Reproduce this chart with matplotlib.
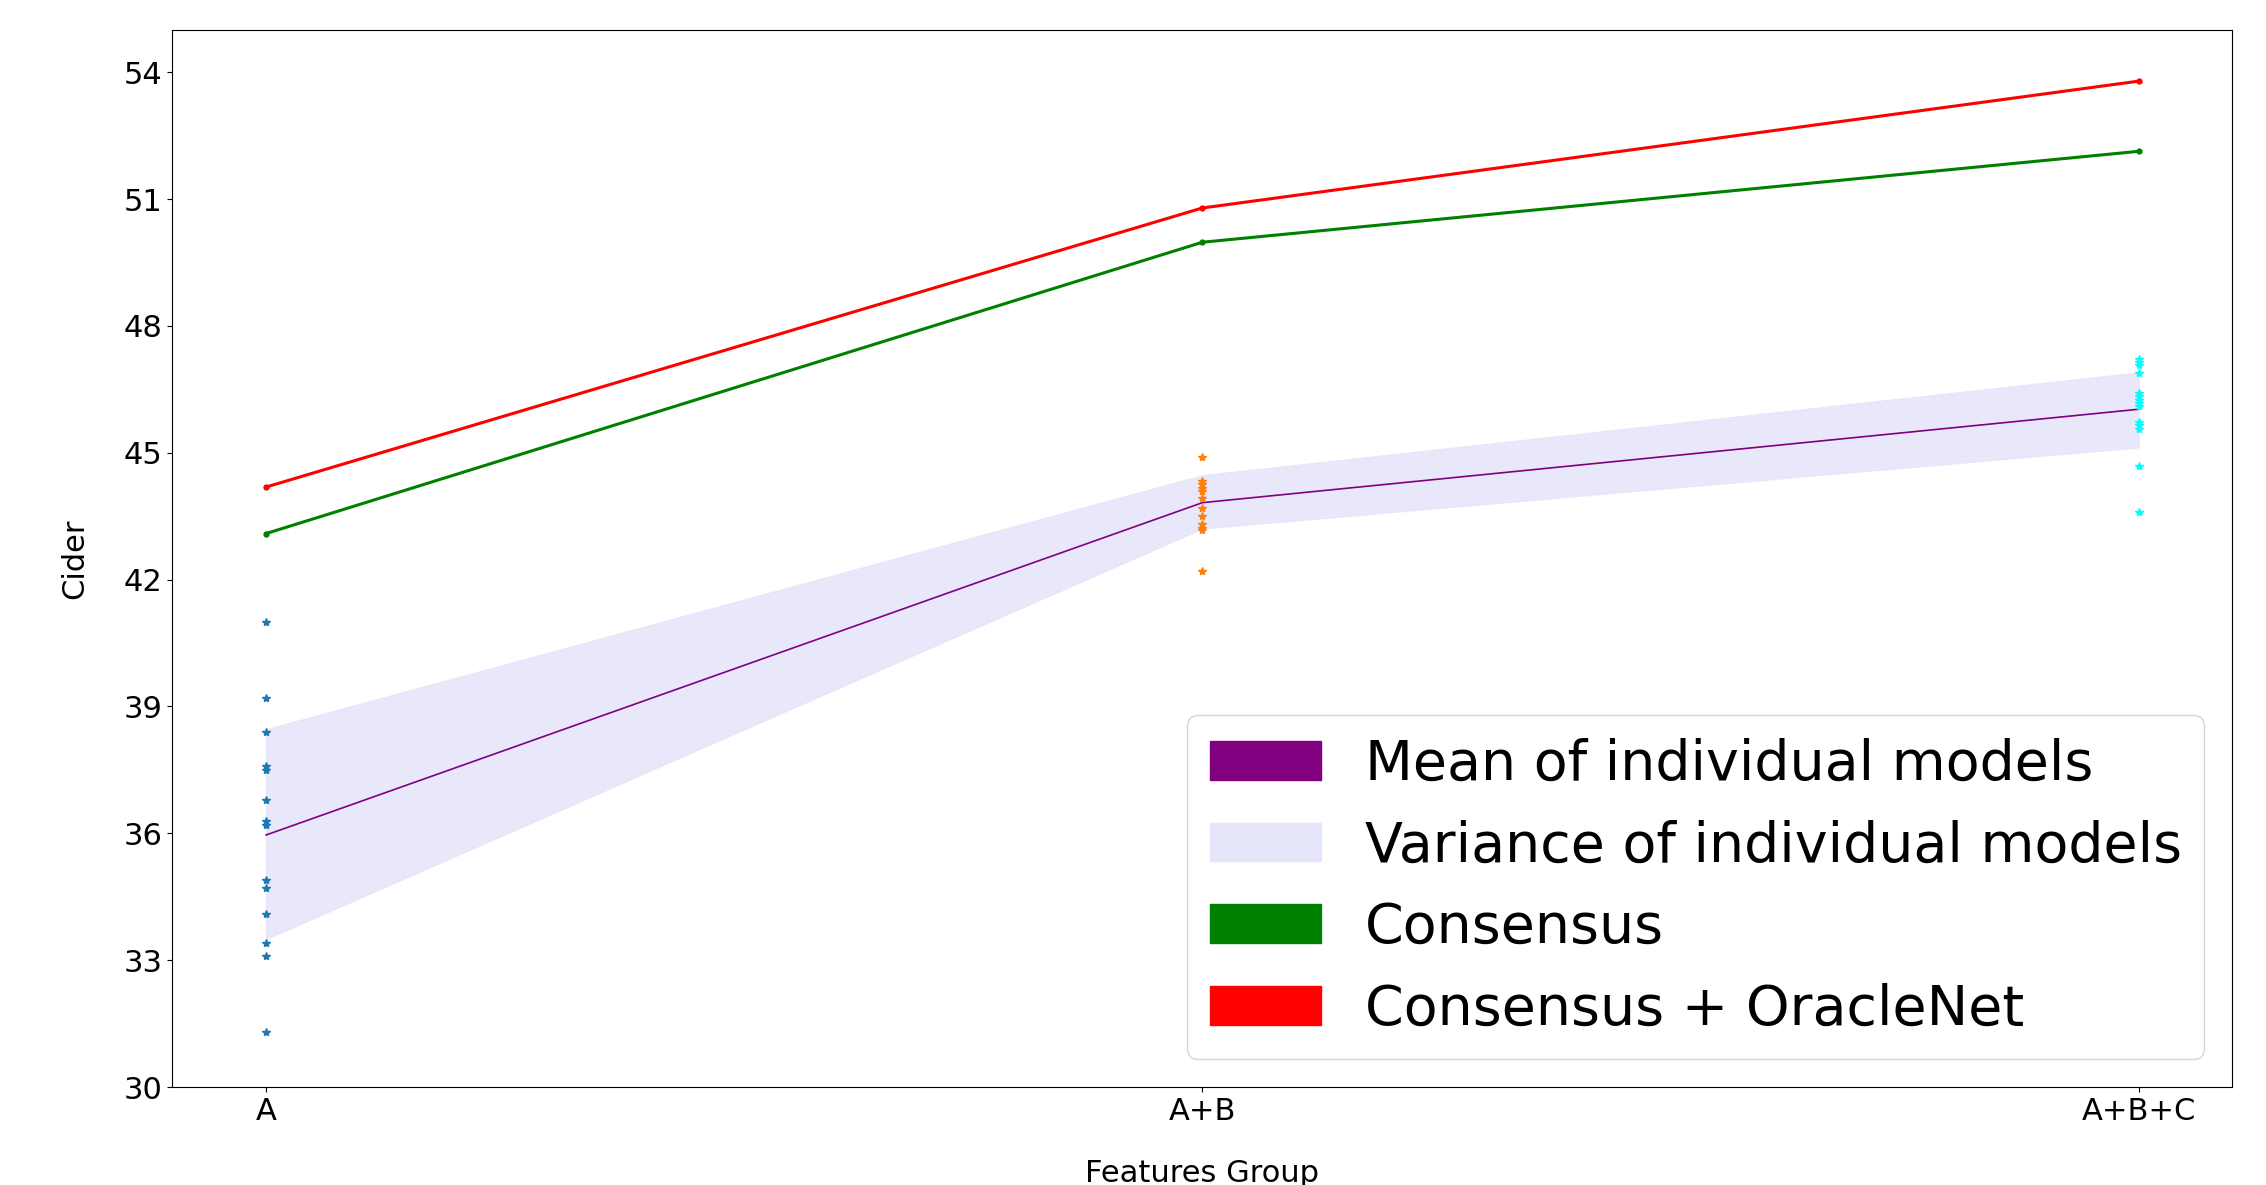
import matplotlib
matplotlib.use("Agg")
import matplotlib.pyplot as plt
from matplotlib.patches import Patch

groups = ["A", "A+B", "A+B+C"]

# individual model scores per feature group
scores_a = [40.99, 39.19, 38.40, 37.60, 37.49, 36.79, 36.29, 36.19,
            34.90, 34.71, 34.09, 33.40, 33.10, 31.29]
scores_ab = [44.90, 44.33, 44.25, 44.17, 44.09, 43.92, 43.70, 43.51,
             43.31, 43.23, 43.17, 42.20]
scores_abc = [47.23, 47.15, 47.07, 46.89, 46.41, 46.34, 46.26, 46.18,
              46.10, 45.72, 45.65, 45.57, 44.69, 43.59]

mean_vals = [35.96, 43.82, 46.03]
band_lo = [33.50, 43.21, 45.13]
band_hi = [38.46, 44.47, 46.90]
consensus = [43.09, 49.98, 52.13]
oracle = [44.19, 50.79, 53.79]

point_colors = ["#1f77b4", "#ff7f0e", "cyan"]

fig = plt.figure(figsize=(22.66, 11.85), dpi=100)
ax = fig.add_axes([0.0761, 0.0827, 0.909, 0.892])

xs = list(range(len(groups)))
for i, (pts, c) in enumerate(zip([scores_a, scores_ab, scores_abc], point_colors)):
    ax.plot([i] * len(pts), pts, linestyle="none", marker="*", markersize=6, color=c, zorder=3)

ax.fill_between(xs, band_lo, band_hi, color="lavender", alpha=0.9, zorder=1)
ax.plot(xs, mean_vals, color="purple", linewidth=1.2, zorder=2)
ax.plot(xs, consensus, color="green", linewidth=2.2, marker=".", markersize=7, zorder=2)
ax.plot(xs, oracle, color="red", linewidth=2.2, marker=".", markersize=7, zorder=2)

ax.set_xlim(-0.1, 2.1)
ax.set_ylim(30, 55)
ax.set_yticks([30, 33, 36, 39, 42, 45, 48, 51, 54])
ax.set_xticks(xs)
ax.set_xticklabels(groups)
ax.tick_params(labelsize=22)
ax.set_xlabel("Features Group", fontsize=22, labelpad=24)
ax.set_ylabel("Cider", fontsize=22, labelpad=25)

handles = [Patch(color="purple", label="Mean of individual models"),
           Patch(color="lavender", label="Variance of individual models"),
           Patch(color="green", label="Consensus"),
           Patch(color="red", label="Consensus + OracleNet")]
ax.legend(handles=handles, loc="lower right", fontsize=40)

fig.savefig("out.png", dpi=100)
